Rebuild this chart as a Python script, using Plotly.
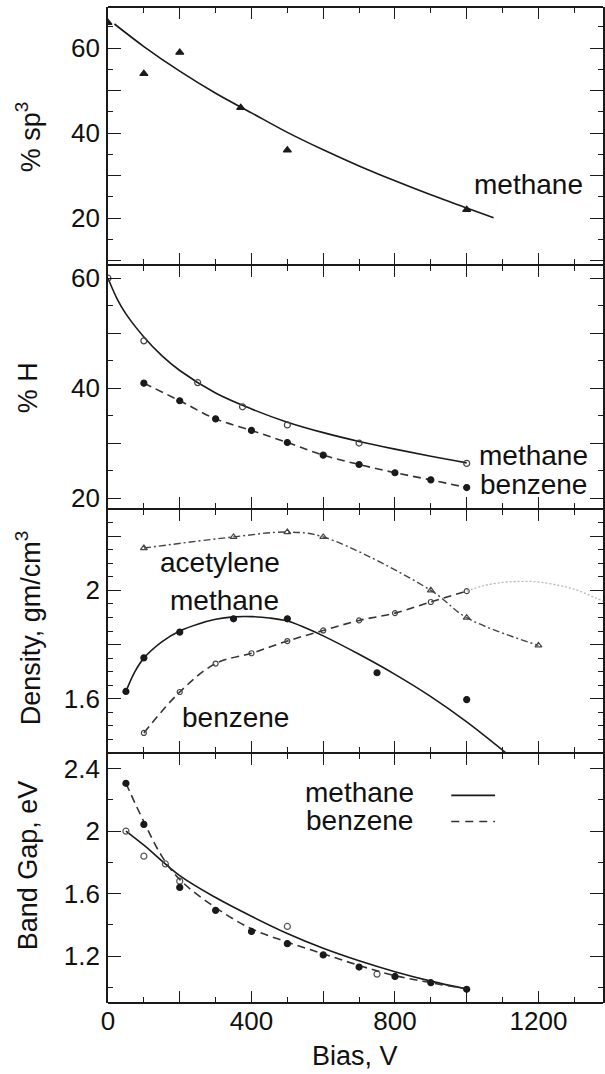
import plotly.graph_objects as go

# ---------------- data ----------------
# panel 1: % sp3 (methane)
sp3_bias = [0, 100, 200, 370, 500, 1000]
sp3_methane = [66, 54, 59, 46, 36, 22]
sp3_fit_bias = [18, 100, 200, 300, 400, 500, 600, 700, 800, 900, 1000, 1075]
sp3_fit = [65.7, 60.4, 54.6, 49.4, 44.8, 40.2, 36.1, 32.3, 28.8, 25.5, 22.4, 20.1]

# panel 2: % H
h_meth_bias = [0, 100, 250, 375, 500, 700, 1000]
h_methane = [60, 48.6, 41, 36.6, 33.3, 30.0, 26.3]
h_meth_fit_bias = [0, 25, 50, 100, 150, 200, 300, 400, 500, 600, 700, 800, 900, 1000]
h_meth_fit = [60, 56.3, 53.5, 49.3, 45.9, 43.2, 39.1, 36.2, 33.8, 31.9, 30.3, 28.9, 27.6, 26.4]
h_benz_bias = [100, 200, 300, 400, 500, 600, 700, 800, 900, 1000]
h_benzene = [40.9, 37.7, 34.4, 32.3, 30.1, 27.8, 26.1, 24.6, 23.3, 21.9]

# panel 3: density
d_meth_bias = [50, 100, 200, 350, 500, 750, 1000]
d_methane = [1.627, 1.751, 1.846, 1.895, 1.895, 1.696, 1.597]
d_meth_fit_bias = [50, 75, 100, 150, 200, 250, 300, 350, 400, 450, 500, 550, 600, 700, 800, 900, 1000, 1110]
d_meth_fit = [1.627, 1.70, 1.75, 1.81, 1.85, 1.875, 1.893, 1.902, 1.903, 1.898, 1.887, 1.862,
              1.832, 1.764, 1.690, 1.608, 1.515, 1.40]
d_acet_bias = [100, 350, 500, 600, 900, 1000, 1200]
d_acetylene = [2.156, 2.197, 2.215, 2.197, 2.0, 1.899, 1.797]
d_benz_bias = [100, 200, 300, 400, 500, 600, 700, 800, 900, 1000]
d_benzene = [1.474, 1.625, 1.73, 1.768, 1.813, 1.852, 1.889, 1.916, 1.957, 1.997]
d_benz_ext_bias = [1000, 1050, 1100, 1150, 1200, 1250, 1300, 1380]
d_benz_ext = [1.997, 2.018, 2.029, 2.033, 2.031, 2.02, 2.004, 1.96]

# panel 4: band gap
g_meth_bias = [50, 100, 160, 200, 500, 750]
g_methane = [2.0, 1.84, 1.79, 1.68, 1.39, 1.085]
g_meth_fit_bias = [50, 100, 200, 300, 400, 500, 600, 700, 800, 900, 1000]
g_meth_fit = [2.0, 1.91, 1.715, 1.575, 1.455, 1.345, 1.25, 1.17, 1.10, 1.04, 0.99]
g_benz_bias = [50, 100, 200, 300, 400, 500, 600, 700, 800, 900, 1000]
g_benzene = [2.306, 2.043, 1.64, 1.493, 1.358, 1.28, 1.208, 1.13, 1.07, 1.03, 0.988]
g_benz_fit_bias = [50, 100, 150, 200, 300, 400, 500, 600, 700, 800, 900, 1000]
g_benz_fit = [2.306, 2.06, 1.84, 1.69, 1.51, 1.375, 1.29, 1.215, 1.14, 1.075, 1.03, 0.99]

x_labels = [0, 400, 800, 1200]
x_major_unlabeled = [200, 600, 1000, 1400]

# ---------------- figure ----------------
INK = "#1a1a1a"
FONT = "Liberation Sans, Arial, sans-serif"
fig = go.Figure()

def line(x, y, xa, ya, dash="solid", color=INK, width=1.6, shape="spline"):
    fig.add_trace(go.Scatter(x=x, y=y, xaxis=xa, yaxis=ya, mode="lines",
                             line=dict(color=color, width=width, dash=dash, shape=shape, smoothing=1.0),
                             hoverinfo="skip", showlegend=False))

def pts(x, y, xa, ya, symbol, size=6, color=INK):
    fig.add_trace(go.Scatter(x=x, y=y, xaxis=xa, yaxis=ya, mode="markers",
                             marker=dict(symbol=symbol, size=size, color=color,
                                         line=dict(color=color, width=1.2)),
                             showlegend=False))

# panel 1 (x2, y2)
line(sp3_fit_bias, sp3_fit, "x2", "y2")
pts(sp3_bias, sp3_methane, "x2", "y2", "triangle-up", 7)
# panel 2 (x3, y3)
line(h_meth_fit_bias, h_meth_fit, "x3", "y3")
pts(h_meth_bias, h_methane, "x3", "y3", "circle-open", 6, "#444")
line(h_benz_bias, h_benzene, "x3", "y3", dash="8px,5px", color="#333")
pts(h_benz_bias, h_benzene, "x3", "y3", "circle", 6)
# panel 3 (x4, y4)
line(d_meth_fit_bias, d_meth_fit, "x4", "y4")
pts(d_meth_bias, d_methane, "x4", "y4", "circle", 6)
line(d_acet_bias, d_acetylene, "x4", "y4", dash="7px,3px,2px,3px", color="#444", width=1.4)
pts(d_acet_bias, d_acetylene, "x4", "y4", "triangle-up-open", 6, "#444")
line(d_benz_bias, d_benzene, "x4", "y4", dash="8px,5px", color="#333")
pts(d_benz_bias, d_benzene, "x4", "y4", "circle-open", 5, "#444")
line(d_benz_ext_bias, d_benz_ext, "x4", "y4", dash="2px,2px", color="#b5b5b5", width=1.3)
# panel 4 (x, y)
line(g_meth_fit_bias, g_meth_fit, "x", "y")
pts(g_meth_bias, g_methane, "x", "y", "circle-open", 6, "#555")
line(g_benz_fit_bias, g_benz_fit, "x", "y", dash="8px,5px", color="#333")
pts(g_benz_bias, g_benzene, "x", "y", "circle", 6)

# ---------------- axes ----------------
H = 1074
top_px, bot_px = 7, 1003
def dom(a, b):
    span = bot_px - top_px
    return [(bot_px - b) / span, (bot_px - a) / span]

tickfont = dict(family=FONT, size=26, color="#111")
base = dict(ticks="inside", tickcolor=INK, tickwidth=1.3, showgrid=False, zeroline=False,
            tickfont=tickfont, mirror="ticks")

def xaxis(anchor, vals, labels, minor=True):
    d = dict(base)
    d.update(range=[0, 1380], anchor=anchor, tickmode="array", tickvals=vals,
             showticklabels=labels, ticklen=12, showline=False)
    if minor:
        d["minor"] = dict(dtick=100, ticklen=6, ticks="inside", tickcolor=INK, tickwidth=1.2)
    return d

def yaxis(anchor, domain, rng, tv, labels, minor_dt=None, ticktext=None):
    d = dict(base)
    d.update(range=rng, domain=domain, anchor=anchor, tickmode="array", tickvals=tv,
             showticklabels=labels, ticklen=13, ticklabelstandoff=1,
             showline=True, linecolor=INK, linewidth=1.8)
    if ticktext is not None:
        d["ticktext"] = ticktext
    if minor_dt:
        d["minor"] = dict(dtick=minor_dt, ticklen=5, ticks="inside", tickcolor=INK, tickwidth=1.2)
    return d

every200 = [0, 200, 400, 600, 800, 1000, 1200, 1400]
layout = dict(
    width=605, height=H, margin=dict(l=108, r=0, t=top_px, b=H - bot_px),
    paper_bgcolor="white", plot_bgcolor="white", showlegend=False,
    font=dict(family=FONT, color="#111"),
    xaxis=xaxis("y", x_labels, True),
    xaxis2=xaxis("y2", every200, False), xaxis3=xaxis("y3", every200, False), xaxis4=xaxis("y4", every200, False),
    xaxis5=xaxis("y", x_major_unlabeled, False, minor=False),
    yaxis=yaxis("x", dom(753, 1003), [0.9, 2.5], [1.2, 1.6, 2.0, 2.4], True, 0.2, ["1.2", "1.6", "2", "2.4"]),
    yaxis4=yaxis("x4", dom(509, 753), [1.4, 2.3], [1.6, 2.0], True, 0.05, ["1.6", "2"]),
    yaxis3=yaxis("x3", dom(265, 509), [18, 62.4], [20, 40, 60], True, 5),
    yaxis2=yaxis("x2", dom(7, 265), [9, 69.7], [20, 40, 60], True, 5),
)
# extra long unlabeled major y ticks (overlay axes)
layout["yaxis5"] = yaxis("x4", dom(509, 753), [1.4, 2.3], [1.8, 2.2], False)
layout["yaxis6"] = yaxis("x3", dom(265, 509), [18, 62.4], [30, 50], False)
layout["yaxis7"] = yaxis("x2", dom(7, 265), [9, 69.7], [10, 30, 50], False)
layout["yaxis5"]["overlaying"] = "y4"
layout["yaxis6"]["overlaying"] = "y3"
layout["yaxis7"]["overlaying"] = "y2"
for k in ["yaxis5", "yaxis6", "yaxis7"]:
    layout[k]["showline"] = False
layout["xaxis5"]["overlaying"] = "x"
for k in ["xaxis2", "xaxis3", "xaxis4", "xaxis5"]:
    layout[k]["matches"] = "x"
fig.update_layout(**layout)

# dummy invisible traces so overlay axes are rendered
for xa, ya in [("x5", "y"), ("x4", "y5"), ("x3", "y6"), ("x2", "y7")]:
    fig.add_trace(go.Scatter(x=[None], y=[None], xaxis=xa, yaxis=ya, mode="lines",
                             showlegend=False, hoverinfo="skip"))

# horizontal frame lines (panel borders)
for ypx in [7, 265, 509, 753, 1003]:
    yp = (bot_px - ypx) / (bot_px - top_px)
    fig.add_shape(type="line", xref="paper", yref="paper", x0=0, x1=1, y0=yp, y1=yp,
                  line=dict(color=INK, width=1.8))

# ---------------- texts ----------------
def txt(x, y, s, xref, yref, size=28):
    fig.add_annotation(x=x, y=y, xref=xref, yref=yref, text=s, showarrow=False,
                       font=dict(family=FONT, size=size, color="#111"))

txt(1173, 28.0, "methane", "x2", "y2")
txt(1187, 27.8, "methane", "x3", "y3")
txt(1187, 22.4, "benzene", "x3", "y3")
txt(313, 2.103, "acetylene", "x4", "y4")
txt(324, 1.963, "methane", "x4", "y4")
txt(355, 1.531, "benzene", "x4", "y4")
txt(701, 2.248, "methane", "x", "y")
txt(701, 2.069, "benzene", "x", "y")
fig.add_shape(type="line", xref="x", yref="y", x0=957, x1=1079, y0=2.229, y1=2.229,
              line=dict(color=INK, width=1.6))
fig.add_shape(type="line", xref="x", yref="y", x0=957, x1=1079, y0=2.062, y1=2.062,
              line=dict(color="#333", width=1.6, dash="8px,6px"))

# axis titles
for cy, s in [(137, "% sp<sup>3</sup>"), (388, "% H"), (628, "Density, gm/cm<sup>3</sup>"), (865, "Band Gap, eV")]:
    xp = (28 - 108) / (605 - 108)
    yp = (bot_px - cy) / (bot_px - top_px)
    fig.add_annotation(x=xp, y=yp, xref="paper", yref="paper", text=s, textangle=-90,
                       showarrow=False, xanchor="center", yanchor="middle",
                       font=dict(family=FONT, size=27, color="#111"))
fig.add_annotation(x=(356 - 108) / (605 - 108), y=(bot_px - 1056) / (bot_px - top_px),
                   xref="paper", yref="paper", text="Bias, V", showarrow=False,
                   xanchor="center", yanchor="middle", font=dict(family=FONT, size=27, color="#111"))

fig.write_html("out.html")
